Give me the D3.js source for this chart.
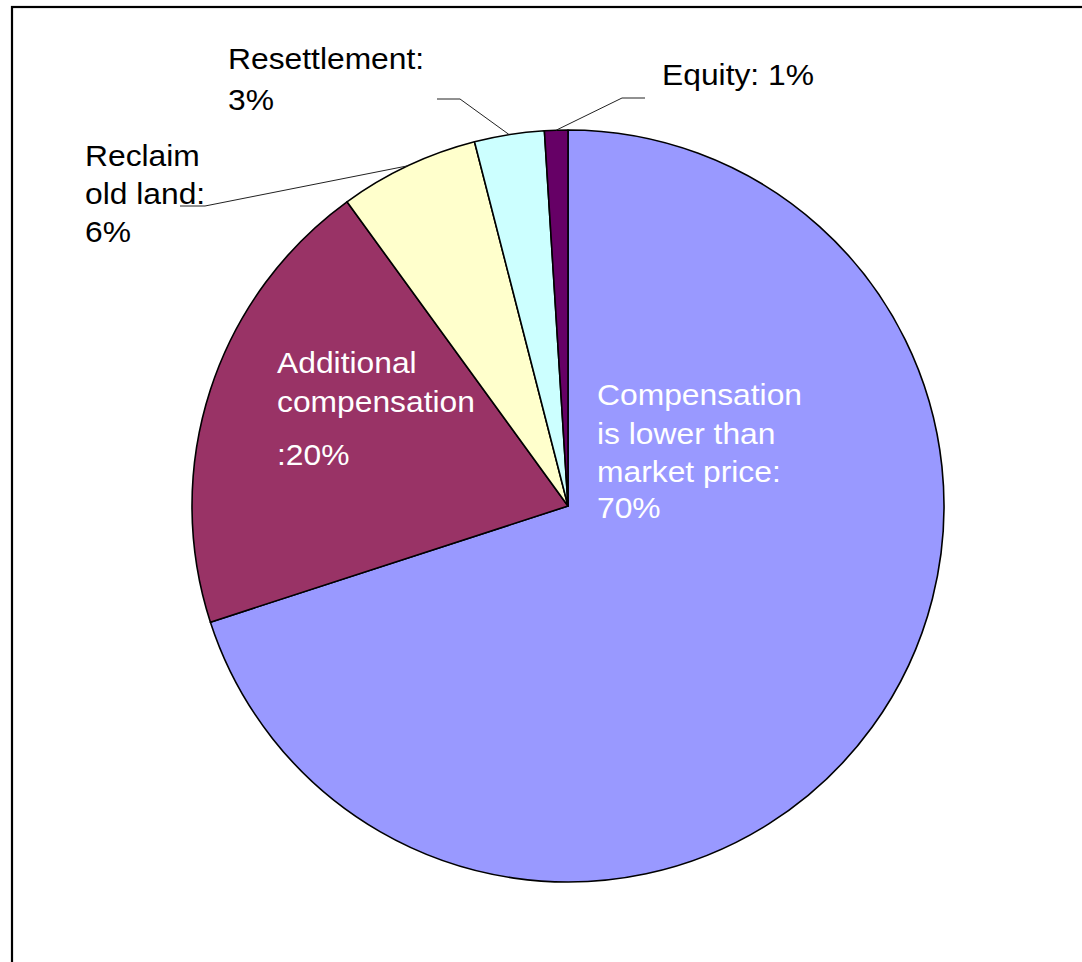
<!DOCTYPE html>
<html>
<head>
<meta charset="utf-8">
<script src="https://cdn.jsdelivr.net/npm/d3@7/dist/d3.min.js"></script>
<style>
  html, body { margin: 0; padding: 0; background: #fff; }
  svg { display: block; }
  text { font-family: "Liberation Sans", Arial, sans-serif; }
</style>
</head>
<body>
<svg id="chart" width="1082" height="962"></svg>
<script>
// ---- data ----
const categories = ["Compensation is lower than market price", "Additional compensation", "Reclaim old land", "Resettlement", "Equity"];
const values = [70, 20, 6, 3, 1];
const colors = ["#9999FF", "#993366", "#FFFFCC", "#CCFFFF", "#660066"];
const labelLines = [
  ["Compensation", "is lower than", "market price:", "70%"],
  ["Additional", "compensation", ":20%"],
  ["Reclaim", "old land:", "6%"],
  ["Resettlement:", "3%"],
  ["Equity: 1%"]
];

// ---- layout (positions / styles) ----
const W = 1082, H = 962;
const cx = 568, cy = 506, R = 376;
const fontSize = 30;
const labelLayout = [
  { x: 597, ys: [405, 444, 482, 518], fill: "#fff" },
  { x: 277, ys: [373, 412, 465], fill: "#fff" },
  { x: 85,  ys: [166, 204, 242], fill: "#000", leader: [[205, 206], [180, 206]] },
  { x: 228, ys: [69, 110], fill: "#000", leader: [[460, 99], [437, 99]] },
  { x: 662, ys: [85], fill: "#000", leader: [[622, 98], [645, 98]] }
];

const svg = d3.select("#chart");

// frame
svg.append("rect")
  .attr("x", 12).attr("y", 7)
  .attr("width", W + 40).attr("height", H + 40)
  .attr("fill", "#fff")
  .attr("stroke", "#000").attr("stroke-width", 2.2);

const pie = d3.pie().sort(null).value(d => d)(values);
const arc = d3.arc().innerRadius(0).outerRadius(R);

const g = svg.append("g").attr("transform", `translate(${cx},${cy})`);

g.selectAll("path.slice")
  .data(pie)
  .join("path")
  .attr("class", "slice")
  .attr("d", arc)
  .attr("fill", (d, i) => colors[i])
  .attr("stroke", "#000")
  .attr("stroke-width", 1.6)
  .attr("stroke-linejoin", "round");

// leader lines
pie.forEach((d, i) => {
  const L = labelLayout[i];
  if (!L.leader) return;
  const a = (d.startAngle + d.endAngle) / 2;
  const start = [cx + R * Math.sin(a), cy - R * Math.cos(a)];
  const pts = [start].concat(L.leader);
  svg.append("path")
    .attr("d", d3.line()(pts))
    .attr("fill", "none")
    .attr("stroke", "#222")
    .attr("stroke-width", 1);
});

// labels
labelLines.forEach((lines, i) => {
  const L = labelLayout[i];
  lines.forEach((t, j) => {
    svg.append("text")
      .attr("transform", `translate(${L.x},${L.ys[j]}) scale(1.06,1)`)
      .attr("font-size", fontSize)
      .attr("fill", L.fill)
      .text(t);
  });
});
</script>
</body>
</html>
